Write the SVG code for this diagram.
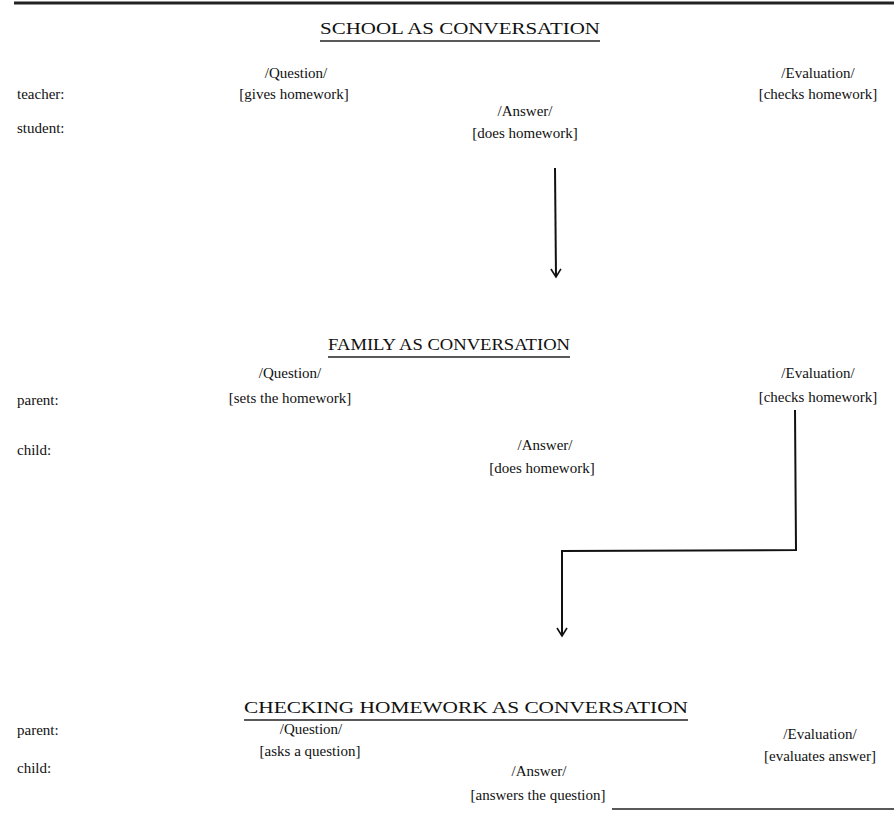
<svg xmlns="http://www.w3.org/2000/svg" width="894" height="817" viewBox="0 0 894 817">
<defs>
<style>
text{font-family:"Liberation Serif","DejaVu Serif",serif;font-size:15px;fill:#111}
.t{font-size:16.5px;text-anchor:middle}
.c{text-anchor:middle}
.rule{stroke:#222;fill:none}
.conn{stroke:#111;stroke-width:2;fill:none}
</style>
<marker id="v" markerWidth="14" markerHeight="14" refX="12" refY="7" orient="auto" markerUnits="userSpaceOnUse" viewBox="0 0 14 14">
<path d="M4,2 L12,7 L4,12" fill="none" stroke="#111" stroke-width="1.6"/>
</marker>
</defs>
<rect width="894" height="817" fill="#fff"/>
<line class="rule" x1="14" y1="3" x2="894" y2="3" stroke-width="3"/>
<line class="rule" x1="612" y1="809" x2="894" y2="809" stroke-width="1.5"/>

<g id="school">
<text class="t" x="460" y="34" textLength="280" lengthAdjust="spacingAndGlyphs">SCHOOL AS CONVERSATION</text>
<line class="rule" x1="320" y1="41" x2="600" y2="41" stroke-width="1.5"/>
<text x="17" y="99">teacher:</text>
<text x="17" y="133">student:</text>
</g>
<g id="school-question"><text class="c" x="296" y="78">/Question/</text><text class="c" x="294" y="99">[gives homework]</text></g>
<g id="school-answer"><text class="c" x="525" y="116">/Answer/</text><text class="c" x="525" y="138">[does homework]</text></g>
<g id="school-evaluation"><text class="c" x="818" y="78">/Evaluation/</text><text class="c" x="818" y="99">[checks homework]</text></g>

<g id="family">
<text class="t" x="449" y="350" textLength="242" lengthAdjust="spacingAndGlyphs">FAMILY AS CONVERSATION</text>
<line class="rule" x1="328" y1="357" x2="570" y2="357" stroke-width="1.5"/>
<text x="17" y="405">parent:</text>
<text x="17" y="455">child:</text>
</g>
<g id="family-question"><text class="c" x="290" y="378">/Question/</text><text class="c" x="290" y="403">[sets the homework]</text></g>
<g id="family-answer"><text class="c" x="545" y="450">/Answer/</text><text class="c" x="542" y="473">[does homework]</text></g>
<g id="family-evaluation"><text class="c" x="818" y="378">/Evaluation/</text><text class="c" x="818" y="402">[checks homework]</text></g>

<g id="checking">
<text class="t" x="466" y="713" textLength="444" lengthAdjust="spacingAndGlyphs">CHECKING HOMEWORK AS CONVERSATION</text>
<line class="rule" x1="244" y1="720" x2="688" y2="720" stroke-width="1.5"/>
<text x="17" y="735">parent:</text>
<text x="17" y="773">child:</text>
</g>
<g id="checking-question"><text class="c" x="311" y="734">/Question/</text><text class="c" x="310" y="756">[asks a question]</text></g>
<g id="checking-answer"><text class="c" x="539" y="776">/Answer/</text><text class="c" x="538" y="800">[answers the question]</text></g>
<g id="checking-evaluation"><text class="c" x="820" y="739">/Evaluation/</text><text class="c" x="820" y="761">[evaluates answer]</text></g>

<g id="connectors">
<path class="conn" d="M555,168 L556,277" marker-end="url(#v)"/>
<path class="conn" d="M795,410 L796,550 L562,551 L562,636" marker-end="url(#v)"/>
</g>
</svg>
